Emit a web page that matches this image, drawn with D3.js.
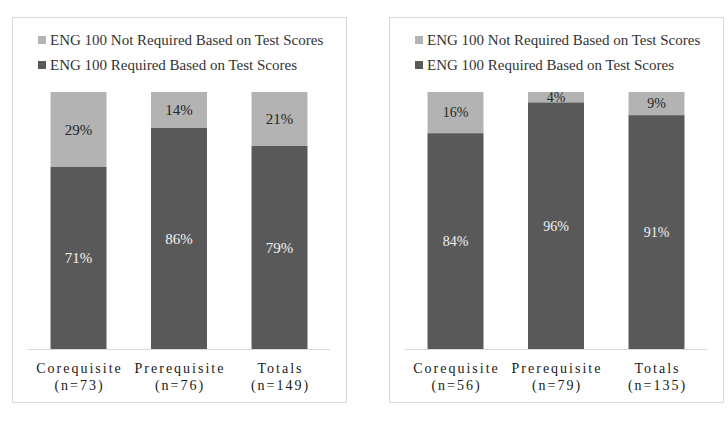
<!DOCTYPE html>
<html>
<head>
<meta charset="utf-8">
<script src="https://cdn.jsdelivr.net/npm/d3@7"></script>
<style>
  body { margin: 0; background: #fff; }
  svg text { font-family: "Liberation Serif", "Times New Roman", serif; }
</style>
</head>
<body>
<div id="chart"></div>
<script>
// Data
const categories = ['Corequisite', 'Prerequisite', 'Totals'];
const seriesNames = ['ENG 100 Not Required Based on Test Scores', 'ENG 100 Required Based on Test Scores'];
const nLeft = [73, 76, 149];
const requiredLeft = [71, 86, 79];
const notRequiredLeft = [29, 14, 21];
const nRight = [56, 79, 135];
const requiredRight = [84, 96, 91];
const notRequiredRight = [16, 4, 9];

const darkColor = '#595959';
const lightColor = '#b3b3b3';

const width = 728, height = 425;

const svg = d3.select('#chart').append('svg')
    .attr('width', width)
    .attr('height', height);

function drawPanel(offsetX, required, notRequired, counts, labelSize) {
    const g = svg.append('g').attr('transform', `translate(${offsetX},0)`);

    // panel frame
    g.append('rect')
        .attr('x', 12.5).attr('y', 17.5)
        .attr('width', 334).attr('height', 385)
        .attr('fill', '#fff')
        .attr('stroke', '#d9d9d9')
        .attr('stroke-width', 1);

    // legend
    const legendColors = [lightColor, darkColor];
    const legend = g.selectAll('.legend')
        .data(seriesNames)
        .enter().append('g')
        .attr('class', 'legend')
        .attr('transform', (d, i) => `translate(38,${40 + i * 25})`);
    legend.append('rect')
        .attr('x', 0).attr('y', -4)
        .attr('width', 8).attr('height', 8)
        .attr('fill', (d, i) => legendColors[i]);
    legend.append('text')
        .attr('x', 12)
        .attr('dy', '0.35em')
        .attr('font-size', '15px')
        .attr('fill', '#333')
        .text(d => d);

    const x = d3.scaleBand()
        .domain(categories)
        .range([28, 330])
        .paddingInner(0.443)
        .paddingOuter(0.224);

    const y = d3.scaleLinear()
        .domain([0, 100])
        .range([349, 92]);

    const rows = categories.map((c, i) => ({
        cat: c, req: required[i], notReq: notRequired[i], n: counts[i]
    }));

    // required (bottom) segments
    g.selectAll('.bar-req')
        .data(rows)
        .enter().append('rect')
        .attr('class', 'bar-req')
        .attr('x', d => x(d.cat))
        .attr('width', x.bandwidth())
        .attr('y', d => y(d.req))
        .attr('height', d => y(0) - y(d.req))
        .attr('fill', darkColor);

    // not required (top) segments
    g.selectAll('.bar-not')
        .data(rows)
        .enter().append('rect')
        .attr('class', 'bar-not')
        .attr('x', d => x(d.cat))
        .attr('width', x.bandwidth())
        .attr('y', d => y(d.req + d.notReq))
        .attr('height', d => y(d.req) - y(d.req + d.notReq))
        .attr('fill', lightColor);

    // value labels
    g.selectAll('.lbl-not')
        .data(rows)
        .enter().append('text')
        .attr('x', d => x(d.cat) + x.bandwidth() / 2)
        .attr('y', d => (y(d.req + d.notReq) + y(d.req)) / 2)
        .attr('dy', '0.35em')
        .attr('text-anchor', 'middle')
        .attr('font-size', labelSize + 'px')
        .attr('fill', '#262626')
        .text(d => d.notReq + '%');

    g.selectAll('.lbl-req')
        .data(rows)
        .enter().append('text')
        .attr('x', d => x(d.cat) + x.bandwidth() / 2)
        .attr('y', d => (y(0) + y(d.req)) / 2)
        .attr('dy', '0.35em')
        .attr('text-anchor', 'middle')
        .attr('font-size', labelSize + 'px')
        .attr('fill', '#f2f2f2')
        .text(d => d.req + '%');

    // baseline
    g.append('line')
        .attr('x1', 28).attr('x2', 330)
        .attr('y1', 349.5).attr('y2', 349.5)
        .attr('stroke', '#d9d9d9');

    // category labels
    const cat = g.selectAll('.cat')
        .data(rows)
        .enter().append('text')
        .attr('class', 'cat')
        .attr('text-anchor', 'middle')
        .attr('font-size', '14px')
        .attr('letter-spacing', '2px')
        .attr('fill', '#1a1a1a');
    cat.append('tspan')
        .attr('x', d => x(d.cat) + x.bandwidth() / 2 + 1)
        .attr('y', 373)
        .text(d => d.cat);
    cat.append('tspan')
        .attr('x', d => x(d.cat) + x.bandwidth() / 2 + 1)
        .attr('y', 390)
        .text(d => `(n=${d.n})`);
}

drawPanel(0, requiredLeft, notRequiredLeft, nLeft, 15);
drawPanel(377, requiredRight, notRequiredRight, nRight, 14);
</script>
</body>
</html>
